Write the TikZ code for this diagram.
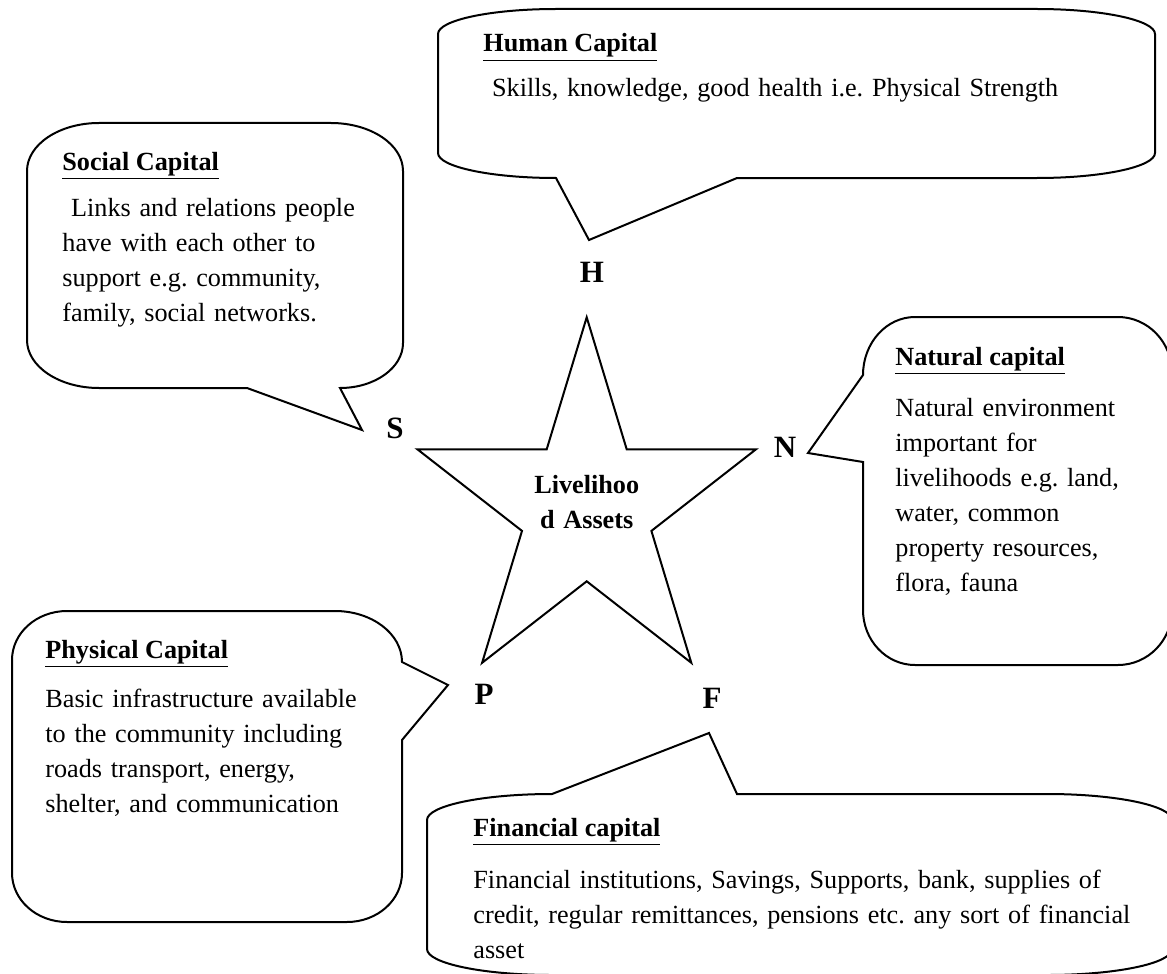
\documentclass[tikz,border=0pt]{standalone}
\usepackage{fontspec}
\setmainfont{Liberation Serif}

\begin{document}
\begin{tikzpicture}
  [x=0.5pt,y=-0.5pt,
   callout/.style={draw,line width=1pt},
   title/.style={font=\fontsize{13.1}{17.5}\selectfont\bfseries,inner sep=0pt,anchor=base west},
   body/.style={font=\fontsize{13.1}{17.5}\selectfont\frenchspacing,text width=340pt,align=left,inner sep=0pt,anchor=base west},
   letter/.style={font=\fontsize{15.5}{18}\selectfont\bfseries,inner sep=0pt,anchor=base},
   centretext/.style={font=\fontsize{13.1}{17.5}\selectfont\bfseries,text width=80pt,align=center,inner sep=0pt,anchor=base}]
  \useasboundingbox (0,0) rectangle (1167,974);

  % the star
  \draw[callout] (586.7,317.3) -- (546.7,449.3) -- (417.4,449.3) -- (522,530.9) -- (482.1,662.8)
    -- (586.7,581.3) -- (691.3,662.8) -- (651.4,530.9) -- (756,449.3) -- (626.7,449.3) -- cycle;
  \node (centre) [centretext] at (586.7,493) {Livelihoo\\d Assets};

  % letters
  \node (h) [letter] at (592,282) {H};
  \node (s) [letter] at (395,438) {S};
  \node (n) [letter] at (785,457) {N};
  \node (p) [letter] at (484,704) {P};
  \node (f) [letter] at (712,708) {F};

  % human capital
  \draw[callout] (438,34) arc[start angle=180,end angle=270,x radius=118,y radius=25] -- (1037,9)
    arc[start angle=270,end angle=360,x radius=118,y radius=25] -- (1155,153)
    arc[start angle=0,end angle=90,x radius=118,y radius=25] -- (737,178) -- (589,240) -- (556,178)
    arc[start angle=90,end angle=180,x radius=118,y radius=25] -- cycle;
  \node (htitle) [title] at (483,52) {\underline{Human Capital}};
  \node (hbody) [body] at ([yshift=-22.5pt]htitle.base west) {\ Skills, knowledge, good health i.e. Physical Strength};

  % social capital
  \draw[callout] (27,171) arc[start angle=180,end angle=270,x radius=72,y radius=48] -- (331,123)
    arc[start angle=270,end angle=360,x radius=72,y radius=48] -- (403,343)
    arc[start angle=0,end angle=90,x radius=63,y radius=45] -- (362,430) -- (247,388) -- (99,388)
    arc[start angle=90,end angle=180,x radius=72,y radius=48] -- cycle;
  \node (stitle) [title] at (62,170) {\underline{Social Capital}};
  \node (sbody) [body] at ([yshift=-23pt]stitle.base west) {\ Links and relations people\\have with each other to\\support e.g. community,\\family, social networks.};

  % natural capital
  \draw[callout] (863,375) arc[start angle=180,end angle=270,x radius=52,y radius=58] -- (1118,317)
    arc[start angle=270,end angle=360,x radius=54,y radius=56] -- (1172,610)
    arc[start angle=0,end angle=90,x radius=54,y radius=55] -- (915,665)
    arc[start angle=90,end angle=180,x radius=52,y radius=55] -- (863,462) -- (808,453) -- cycle;
  \node (ntitle) [title] at (895,365) {\underline{Natural capital}};
  \node (nbody) [body] at ([yshift=-25.5pt]ntitle.base west) {Natural environment\\important for\\livelihoods e.g. land,\\water, common\\property resources,\\flora, fauna};

  % physical capital
  \draw[callout] (12,660) arc[start angle=180,end angle=270,x radius=55,y radius=49] -- (335,611)
    arc[start angle=270,end angle=360,x radius=67,y radius=51] -- (448,685) -- (402,740) -- (402,873)
    arc[start angle=0,end angle=90,x radius=55,y radius=49] -- (67,922)
    arc[start angle=90,end angle=180,x radius=55,y radius=49] -- cycle;
  \node (ptitle) [title] at (45,658) {\underline{Physical Capital}};
  \node (pbody) [body] at ([yshift=-24.5pt]ptitle.base west) {Basic infrastructure available\\to the community including\\roads transport, energy,\\shelter, and communication};

  % financial capital
  \draw[callout] (427,820) arc[start angle=180,end angle=270,x radius=125,y radius=26] -- (709,733)
    -- (737,794) -- (1047,794) arc[start angle=270,end angle=360,x radius=125,y radius=26] -- (1172,949)
    arc[start angle=0,end angle=90,x radius=125,y radius=26] -- (552,975)
    arc[start angle=90,end angle=180,x radius=125,y radius=26] -- cycle;
  \node (ftitle) [title] at (473,836) {\underline{Financial capital}};
  \node (fbody) [body] at ([yshift=-26pt]ftitle.base west) {Financial institutions, Savings, Supports, bank, supplies of\\credit, regular remittances, pensions etc. any sort of financial\\asset};
\end{tikzpicture}
\end{document}
